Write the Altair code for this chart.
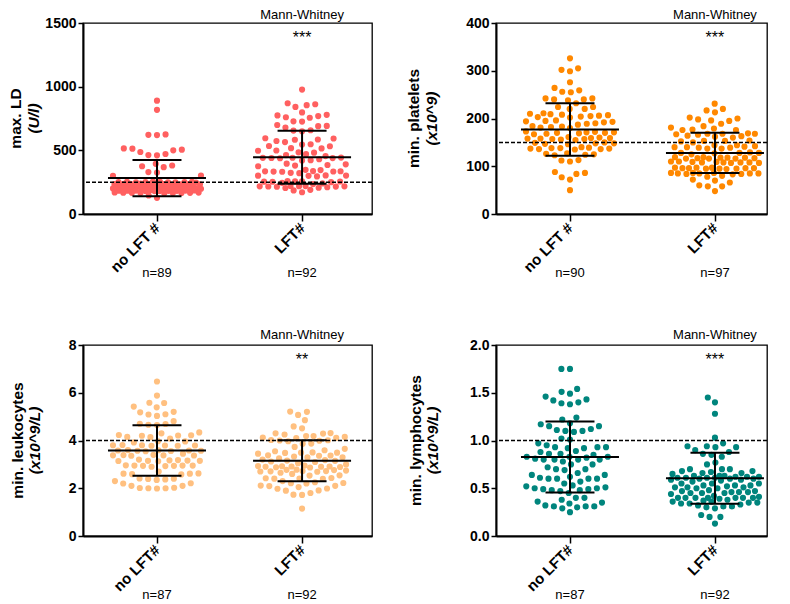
import math
import altair as alt
import pandas as pd

FONT = "Liberation Sans, Arial, sans-serif"

# ---------------- data ----------------
ld_no_lft = [890, 818, 625, 620, 622,
             515, 505, 500, 513, 487, 471, 461, 463,
             394, 381, 375, 368,
             329, 326, 300, 302,
             250, 252, 248, 254, 251, 249, 253, 247, 250, 252, 249,
             235, 233, 237, 234, 236, 232, 238, 235, 234, 236, 233,
             218, 216, 220, 217, 219, 215, 221, 218, 217, 219, 216, 218,
             200, 198, 202, 199, 201, 197, 203, 200, 199, 201, 198, 202,
             183, 181, 185, 182, 184, 180, 186, 183, 182, 184, 181,
             166, 164, 168, 165, 167, 163, 169, 166, 165,
             145, 127]
ld_lft = [977,
          870, 862, 855, 841,
          798, 779, 774, 769, 756, 760,
          728, 726, 699, 692, 679, 690,
          658, 655, 650,
          593, 583, 573, 565, 546, 548, 585, 595,
          534, 515, 497, 482, 484, 517, 532, 499,
          470, 462, 455,
          440, 442, 438, 420, 422, 441, 439, 443, 430,
          395, 390, 385, 380, 375,
          347, 334, 336, 333, 321, 323, 335, 332, 337, 345,
          301, 303, 300, 302, 295,
          256, 258, 254, 257, 255, 253,
          217, 219, 215, 218, 216, 210, 204, 206, 220, 214, 217,
          190, 185,
          171,
          240, 235, 245, 250]

plt_no_lft = [326,
              299, 302, 305,
              276,
              264, 259, 256, 255,
              242, 240, 240, 242, 238,
              232, 224, 220, 220, 224,
              207, 210, 205, 202, 204, 206, 209, 203, 208, 211,
              195, 192, 190, 187, 193, 196, 189, 194,
              182, 181, 183, 180, 184,
              170, 172, 168, 171, 169, 173, 167, 170, 171,
              158, 160, 157, 159, 156, 158, 161, 157, 159, 155,
              148, 147, 149, 146, 150, 148,
              137, 138, 136, 139, 137, 135, 138, 136, 140,
              125, 126, 124, 127, 123,
              112, 110, 113,
              88, 86, 84, 77, 72, 50]
plt_lft = [231,
           213, 217, 220,
           189, 200, 198, 196, 195, 202,
           184, 181, 179, 177, 176, 176,
           168, 164, 162, 166, 168, 167, 169, 160, 163, 168,
           153, 152, 154, 153,
           150,
           144, 140, 137, 141, 140, 139, 137, 139, 142, 144,
           128, 128, 129, 127, 128,
           125,
           118, 117, 116, 118, 119, 117, 119, 116, 116, 118,
           108, 108, 107, 110, 109, 110, 108, 108, 107, 109,
           97, 96, 95, 94, 95, 96, 97, 96, 95, 96, 97,
           86, 85, 83, 85, 84, 86, 85, 84, 85, 86,
           66, 72, 70, 78, 80,
           58, 58, 60,
           48]

leu_no_lft = [6.47, 5.88,
              5.58, 5.57, 5.42, 5.39,
              5.20, 5.18, 5.09, 5.03, 5.10,
              4.81, 4.69, 4.66, 4.70, 4.65,
              4.34, 4.23, 4.21, 4.14, 4.08, 4.15, 4.20, 4.22, 4.30,
              3.97, 3.92, 3.96, 3.79, 3.78, 3.80, 3.79, 3.81, 3.78, 3.80,
              3.55, 3.57, 3.58, 3.60, 3.56, 3.57, 3.59, 3.58,
              3.38, 3.39, 3.40, 3.37, 3.38, 3.36, 3.45,
              3.15, 3.16, 3.14, 3.20, 3.18, 3.17, 3.15, 3.13,
              2.95, 2.94, 2.93, 2.95, 2.90, 2.94, 2.96, 2.95,
              2.61, 2.58, 2.62, 2.59, 2.61, 2.70,
              2.39, 2.35, 2.40, 2.37, 2.41,
              2.20, 2.10, 2.21, 2.30,
              2.00, 2.01, 1.99, 2.00, 2.02, 2.10]
leu_lft = [5.20, 5.21, 5.07,
           4.85,
           4.59, 4.51,
           4.30, 4.29, 4.19, 4.11, 4.12, 4.10, 4.15, 4.19, 4.25, 4.31,
           4.00, 4.01, 3.97, 4.02, 3.99,
           3.86, 3.87, 3.73, 3.59, 3.65,
           3.49, 3.48, 3.50, 3.49, 3.45,
           3.37, 3.36, 3.38, 3.29, 3.30, 3.33, 3.25,
           3.15, 3.16, 3.12, 3.10, 3.18, 3.20,
           2.90, 2.91, 2.92, 2.89, 2.95, 2.90, 2.88, 2.87, 2.91, 2.93,
           2.71, 2.72, 2.76, 2.78, 2.74, 2.77, 2.70, 2.72, 2.69,
           2.54, 2.53, 2.41, 2.40, 2.42, 2.39, 2.43,
           2.21, 2.22, 2.20, 2.10, 2.11, 2.09, 2.05, 2.25,
           1.99, 1.91, 1.72, 1.73, 1.80, 1.90, 1.98,
           1.15,
           3.00, 3.05, 2.60, 2.65, 3.55, 2.30]

lym_no_lft = [1.75, 1.75,
              1.54, 1.51, 1.49,
              1.46, 1.43, 1.42, 1.40, 1.38, 1.39,
              1.24, 1.22,
              1.18, 1.15, 1.12, 1.10, 1.09, 1.10, 1.11, 1.15, 1.17,
              1.02, 1.01,
              0.97,
              0.95, 0.93, 0.93, 0.92, 0.93, 0.92,
              0.89, 0.86, 0.86, 0.85, 0.88,
              0.83, 0.80, 0.80, 0.78, 0.83, 0.83, 0.80, 0.81, 0.80, 0.82,
              0.75, 0.75, 0.70, 0.70, 0.66, 0.69, 0.72,
              0.64, 0.60, 0.60, 0.57, 0.60, 0.61, 0.60, 0.62, 0.64,
              0.55,
              0.52, 0.50, 0.49, 0.48, 0.48, 0.47, 0.49, 0.50, 0.51, 0.53,
              0.45,
              0.40, 0.36, 0.40, 0.35, 0.38,
              0.32, 0.31, 0.31, 0.31, 0.34, 0.29, 0.30, 0.25]
lym_lft = [1.45, 1.40, 1.28,
           1.03,
           0.97, 0.94, 0.94, 0.93, 0.93, 0.90,
           0.88, 0.86, 0.85, 0.83, 0.77, 0.75,
           0.70, 0.70, 0.68, 0.68, 0.67, 0.66, 0.65, 0.66, 0.70,
           0.63, 0.61, 0.61, 0.62, 0.62, 0.63, 0.62, 0.61, 0.61, 0.63,
           0.60, 0.60, 0.59, 0.58, 0.59, 0.60,
           0.57, 0.55, 0.55, 0.53, 0.53, 0.52, 0.51, 0.50, 0.50, 0.51, 0.51, 0.53, 0.55,
           0.48, 0.47, 0.46, 0.46, 0.45, 0.45, 0.44, 0.45, 0.47, 0.46,
           0.42, 0.41, 0.40, 0.40, 0.40, 0.40, 0.40, 0.40, 0.40, 0.39, 0.38,
           0.37, 0.36, 0.36, 0.35, 0.34, 0.35, 0.33, 0.34,
           0.31, 0.29, 0.31, 0.30, 0.32,
           0.22, 0.20, 0.20,
           0.13]

# mean and SD (error bars)
ld_mean, ld_sd = [282, 445], [143, 208]
plt_mean, plt_sd = [177, 128], [55, 42]
leu_mean, leu_sd = [3.58, 3.15], [1.06, 0.86]
lym_mean, lym_sd = [0.828, 0.605], [0.372, 0.267]

ref_lines = [250, 150, 4, 1.0]
stars = ["***", "***", "**", "***"]
test_name = "Mann-Whitney"

# ---------------- layout / style ----------------
H = 191
DOT = 8.6      # horizontal spacing of dots (px)
MAXW = 44.0    # max half-width of a swarm (px)
POS_L = [0.256, 0.758]
POS_R = [0.273, 0.808]


def swarm(values, ymax, h, d=DOT, maxw=MAXW):
    ys = [v / ymax * h for v in values]
    order = sorted(range(len(values)), key=lambda i: ys[i])
    placed = []
    offs = [0.0] * len(values)
    grid = [i * 0.5 for i in range(-int(maxw * 2), int(maxw * 2) + 1)]
    for i in order:
        y = ys[i]
        near = [(px, py) for (px, py) in placed if abs(py - y) < d]

        def ok(c):
            return all((c - px) ** 2 + (y - py) ** 2 >= d * d - 1e-6 for px, py in near)
        cands = [0.0]
        for px, py in near:
            dx = math.sqrt(max(d * d - (py - y) ** 2, 0.0))
            cands += [px + dx, px - dx]
        cands = [c for c in cands if abs(c) <= maxw + 1e-9]
        cands.sort(key=lambda c: (abs(c), c))
        chosen = None
        for c in cands:
            if ok(c):
                chosen = c
                break
        if chosen is None:
            best = None
            for c in grid:
                m = min((c - px) ** 2 + (y - py) ** 2 for px, py in near)
                key = (-m, abs(c))
                if best is None or key < best[0]:
                    best = (key, c)
            chosen = best[1]
        placed.append((chosen, y))
        offs[i] = chosen
    return offs


def panel(values, means, sds, ymax, yticks, yfmt, ref, star, title, title_x,
          w, pos, color, xlabs, mw_y):
    rows = []
    for gi, vals in enumerate(values):
        offs = swarm(vals, ymax, H)
        for v, o in zip(vals, offs):
            rows.append({"x": pos[gi] + o / w, "v": v})
    pts = pd.DataFrame(rows)
    summ = pd.DataFrame({
        "pos": pos,
        "mean": means,
        "lo": [m - s for m, s in zip(means, sds)],
        "hi": [m + s for m, s in zip(means, sds)],
        "n": [f"n={len(v)}" for v in values],
    })
    xs = alt.Scale(domain=[0, 1], nice=False, zero=False)
    ys = alt.Scale(domain=[0, ymax], nice=False, zero=True)
    xaxis = alt.Axis(values=pos, title=None, grid=False,
                     labelExpr=f"datum.value < 0.5 ? '{xlabs[0]}' : '{xlabs[1]}'",
                     tickSize=7, labelAngle=315, labelAlign="right",
                     labelBaseline="middle", labelPadding=4, labelFontSize=15,
                     labelFlush=False, labelOverlap=False)
    yaxis = alt.Axis(values=yticks, format=yfmt, title=None, grid=False,
                     tickSize=5, labelPadding=2, labelFontSize=14,
                     labelFlush=False, labelOverlap=False)

    def X(f):
        return alt.X(f, scale=xs, axis=xaxis)

    def Y(f):
        return alt.Y(f, scale=ys, axis=yaxis)

    dots = alt.Chart(pts).mark_circle(size=38, opacity=1, color=color).encode(
        x=X("x:Q"), y=Y("v:Q"))
    refl = alt.Chart(pd.DataFrame({"r": [ref]})).mark_rule(
        color="black", strokeDash=[4, 2], strokeWidth=1.5
    ).encode(y=Y("r:Q"))
    vbar = alt.Chart(summ).mark_rule(color="black", strokeWidth=2).encode(
        x=X("pos:Q"), y=Y("lo:Q"), y2="hi:Q")
    mean_t = alt.Chart(summ).mark_tick(orient="horizontal", size=98, thickness=2,
                                       color="black", opacity=1).encode(
        x=X("pos:Q"), y=Y("mean:Q"))
    lo_t = alt.Chart(summ).mark_tick(orient="horizontal", size=49, thickness=2,
                                     color="black", opacity=1).encode(
        x=X("pos:Q"), y=Y("lo:Q"))
    hi_t = alt.Chart(summ).mark_tick(orient="horizontal", size=49, thickness=2,
                                     color="black", opacity=1).encode(
        x=X("pos:Q"), y=Y("hi:Q"))
    ann = pd.DataFrame({"pos": [pos[1]], "test": [test_name], "star": [star]})
    mw = alt.Chart(ann).mark_text(font=FONT, fontSize=13, color="black",
                                  baseline="alphabetic").encode(
        x=X("pos:Q"), y=alt.value(mw_y), text="test:N")
    st = alt.Chart(ann).mark_text(font=FONT, fontSize=16, color="black",
                                  baseline="alphabetic").encode(
        x=X("pos:Q"), y=alt.value(20), text="star:N")
    nt = alt.Chart(summ).mark_text(font=FONT, fontSize=13, color="black",
                                   baseline="alphabetic").encode(
        x=X("pos:Q"), y=alt.value(H + 63), text="n:N")
    tdf = pd.DataFrame({"t1": [title[0]], "t2": [title[1]]})
    t1 = alt.Chart(tdf).mark_text(font=FONT, fontSize=15.5, fontWeight="bold",
                                  angle=270, baseline="middle", align="center",
                                  color="black").encode(
        x=alt.value(-title_x[0]), y=alt.value(H / 2), text="t1:N")
    t2 = alt.Chart(tdf).mark_text(font=FONT, fontSize=15.5, fontWeight="bold",
                                  fontStyle="italic", angle=270, baseline="middle",
                                  align="center", color="black").encode(
        x=alt.value(-title_x[1]), y=alt.value(H / 2), text="t2:N")
    return alt.layer(dots, refl, vbar, mean_t, lo_t, hi_t, mw, st, nt, t1, t2).properties(
        width=w, height=H)


p1 = panel([ld_no_lft, ld_lft], ld_mean, ld_sd, 1500, [0, 500, 1000, 1500], "d",
           ref_lines[0], stars[0], ("max. LD", "(U/l)"), (67, 49), 289, POS_L,
           "#FF6060", ["no LFT #", "LFT#"], -4)
p2 = panel([plt_no_lft, plt_lft], plt_mean, plt_sd, 400, [0, 100, 200, 300, 400], "d",
           ref_lines[1], stars[1], ("min. platelets", "(x10^9)"), (82, 64), 271, POS_R,
           "#FF8800", ["no LFT #", "LFT#"], -4)
p3 = panel([leu_no_lft, leu_lft], leu_mean, leu_sd, 8, [0, 2, 4, 6, 8], "d",
           ref_lines[2], stars[2], ("min. leukocytes", "(x10^9/L)"), (65, 48), 289, POS_L,
           "#FFC080", ["no LFT#", "LFT#"], -6)
p4 = panel([lym_no_lft, lym_lft], lym_mean, lym_sd, 2, [0, 0.5, 1.0, 1.5, 2.0], ".1f",
           ref_lines[3], stars[3], ("min. lymphocytes", "(x10^9/L)"), (80, 63), 271, POS_R,
           "#00857D", ["no LFT#", "LFT#"], -6)

chart = alt.concat(p1, p2, p3, p4, columns=2,
                   spacing={"row": 131, "column": 124},
                   bounds="flush").resolve_scale(
    x="independent", y="independent"
).properties(padding=0).configure_view(
    stroke="black", strokeWidth=1.3
).configure_axis(
    domainColor="black", domainWidth=2, tickColor="black", tickWidth=1.5,
    labelColor="black", labelFont=FONT, labelFontWeight="bold"
)

chart.save("out.html", embed_options={"renderer": "svg", "actions": False})
